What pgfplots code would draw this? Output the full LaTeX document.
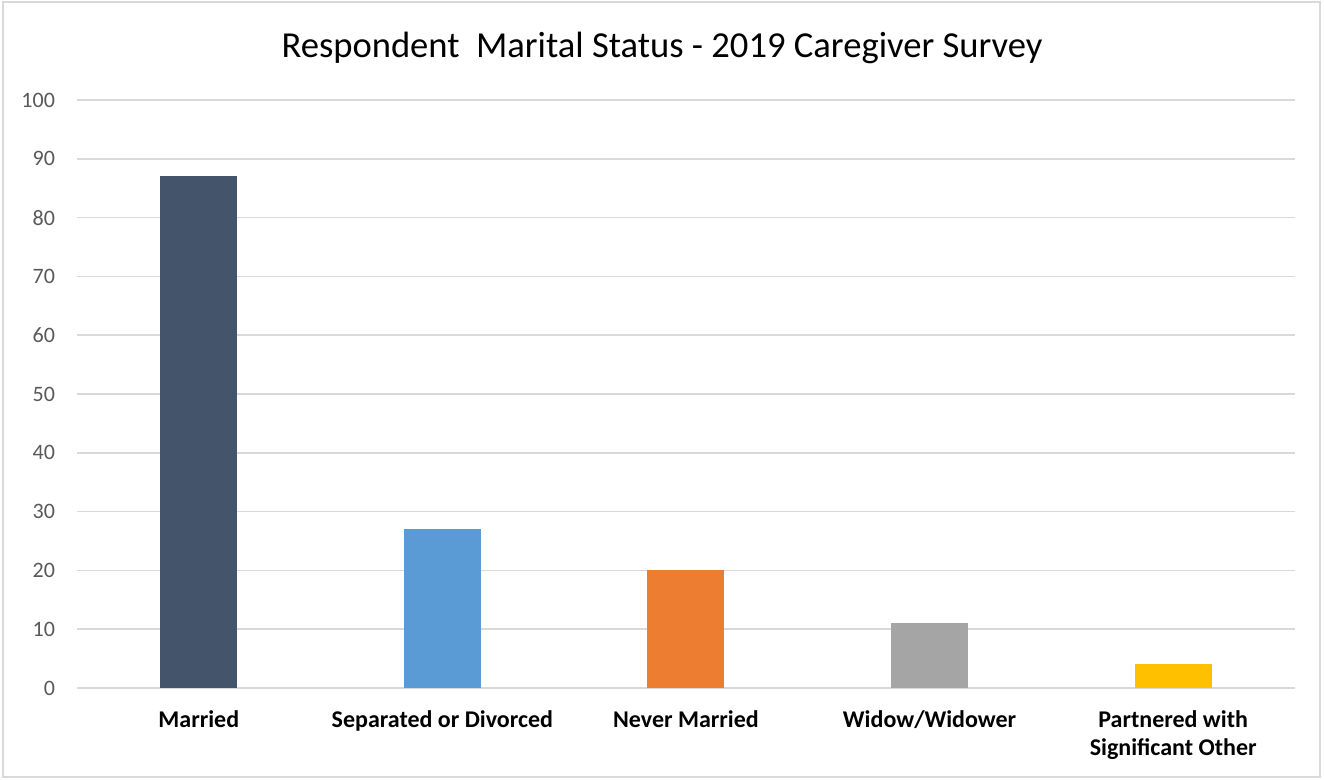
\documentclass[border=0pt]{standalone}
\usepackage{fontspec}
\setmainfont{Carlito}
\usepackage{pgfplots}
\pgfplotsset{compat=1.18}
\definecolor{navy}{HTML}{44546A}
\definecolor{lblue}{HTML}{5B9BD5}
\definecolor{orng}{HTML}{ED7D31}
\definecolor{gry}{HTML}{A5A5A5}
\definecolor{gold}{HTML}{FFC000}
\definecolor{gridc}{HTML}{D9D9D9}
\definecolor{tickc}{HTML}{595959}

\begin{document}
\begin{tikzpicture}
  % page background and frame (1px = 0.5pt)
  \fill[white] (-38.5pt,-46pt) rectangle (623.5pt,344pt);
  \draw[gridc, line width=1pt] (-37pt,-44.5pt) rectangle (621.5pt,343pt);
  \node[font=\fontsize{18.3}{22}\selectfont, text=black] at (292.5pt,320pt)
    {Respondent\ \ Marital Status - 2019 Caregiver Survey};
  \begin{axis}[
      at={(0,0)}, anchor=south west,
      scale only axis, width=609pt, height=294pt,
      xmin=-0.5, xmax=4.5, ymin=0, ymax=100,
      ytick={0,10,...,100},
      xtick={0,1,2,3,4},
      xticklabels={Married, Separated or Divorced, Never Married, Widow/Widower, {Partnered with\\Significant Other}},
      x tick label style={font=\bfseries\fontsize{12}{14}\selectfont, align=center, text=black, anchor=north, yshift=-8pt},
      y tick label style={font=\fontsize{11}{13}\selectfont, text=tickc, xshift=-7.5pt},
      /pgf/number format/assume math mode=true,
      axis line style={draw=none},
      major tick length=0pt,
      ymajorgrids, grid style={gridc, line width=0.8pt},
      ybar, bar width=38.5pt, bar shift=0pt,
    ]
    \addplot[fill=navy, draw=none] coordinates {(0,87)};
    \addplot[fill=lblue, draw=none] coordinates {(1,27)};
    \addplot[fill=orng, draw=none] coordinates {(2,20)};
    \addplot[fill=gry, draw=none] coordinates {(3,11)};
    \addplot[fill=gold, draw=none] coordinates {(4,4)};
  \end{axis}
\end{tikzpicture}
\end{document}
